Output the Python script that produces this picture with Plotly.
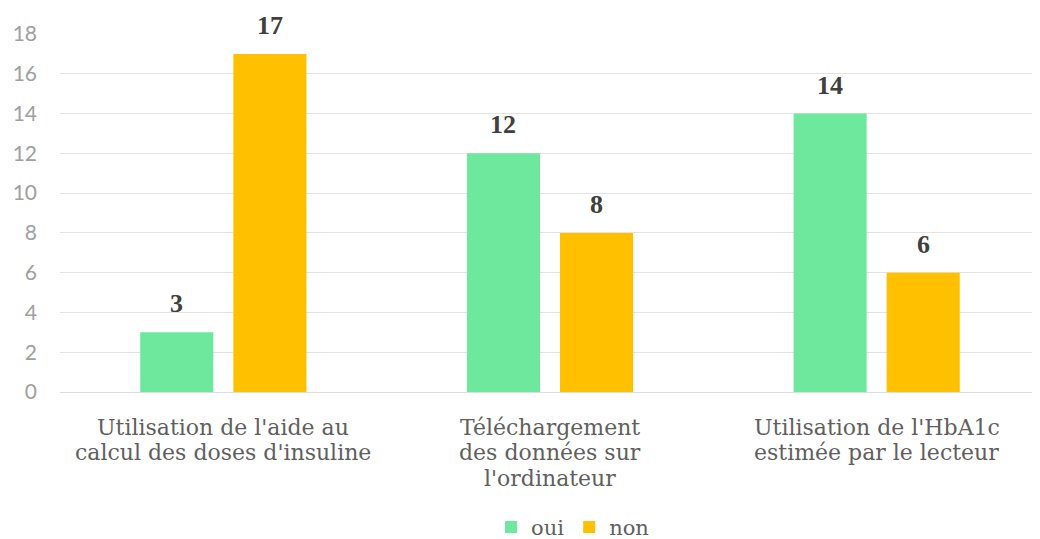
import plotly.graph_objects as go

categories = [
    "Utilisation de l'aide au<br>calcul des doses d'insuline",
    "Téléchargement<br>des données sur<br>l'ordinateur",
    "Utilisation de l'HbA1c<br>estimée par le lecteur",
]
series_names = ["oui", "non"]
oui_values = [3, 12, 14]
non_values = [17, 8, 6]
y_ticks = [0, 2, 4, 6, 8, 10, 12, 14, 16, 18]

colors = {"oui": "#6EE89C", "non": "#FFC000"}

# the page body adds an 8px offset, so the figure is sized to fit inside the window
W, H = 1032, 531
ML, MR, MT, MB = 52, 0, 26, 147
BARGAP = 0.43
BARGROUPGAP = 0.215

fig = go.Figure()
for name, vals in zip(series_names, [oui_values, non_values]):
    fig.add_trace(go.Bar(
        name=name, x=categories, y=vals,
        marker=dict(color=colors[name], line=dict(width=0)),
    ))

# value labels above bars
plot_w = W - ML - MR
cat_w = plot_w / len(categories)
slot = cat_w * (1 - BARGAP) / len(series_names)
for j, vals in enumerate([oui_values, non_values]):
    shift = (j - (len(series_names) - 1) / 2) * slot
    for c, v in zip(categories, vals):
        fig.add_annotation(
            x=c, y=v, xref="x", yref="y", text=f"<b>{v}</b>",
            showarrow=False, xshift=shift, yshift=12, yanchor="bottom",
            font=dict(family="Liberation Serif", size=26, color="#404040"),
        )

# category labels (one annotation per line for tight line spacing)
for c in categories:
    for k, line in enumerate(c.split("<br>")):
        fig.add_annotation(
            x=c, y=0, xref="x", yref="y", text=line,
            showarrow=False, yshift=-35 - 25.5 * k, yanchor="middle",
            font=dict(family="DejaVu Serif", size=22, color="#5f5f5f"),
        )

fig.update_layout(
    width=W, height=H,
    margin=dict(l=ML, r=MR, t=MT, b=MB, autoexpand=False),
    paper_bgcolor="white", plot_bgcolor="white",
    barmode="group", bargap=BARGAP, bargroupgap=BARGROUPGAP,
    showlegend=True,
    legend=dict(
        orientation="h", xref="container", yref="container",
        x=0.547, xanchor="center", y=0.022, yanchor="middle",
        font=dict(family="DejaVu Serif", size=21, color="#5f5f5f"),
        itemwidth=30, traceorder="normal",
    ),
    xaxis=dict(
        showticklabels=False, automargin=False,
        showgrid=False, showline=False, ticks="",
    ),
    yaxis=dict(
        range=[0, 18], tickvals=y_ticks, automargin=False,
        tickfont=dict(family="Lato", size=21, color="#a0a0a0"),
        showgrid=True, gridcolor="#e3e3e3", gridwidth=1,
        zeroline=True, zerolinecolor="#dcdcdc", zerolinewidth=1,
        showline=False, ticks="", ticklabelstandoff=22,
    ),
)

fig.write_html("out.html")
